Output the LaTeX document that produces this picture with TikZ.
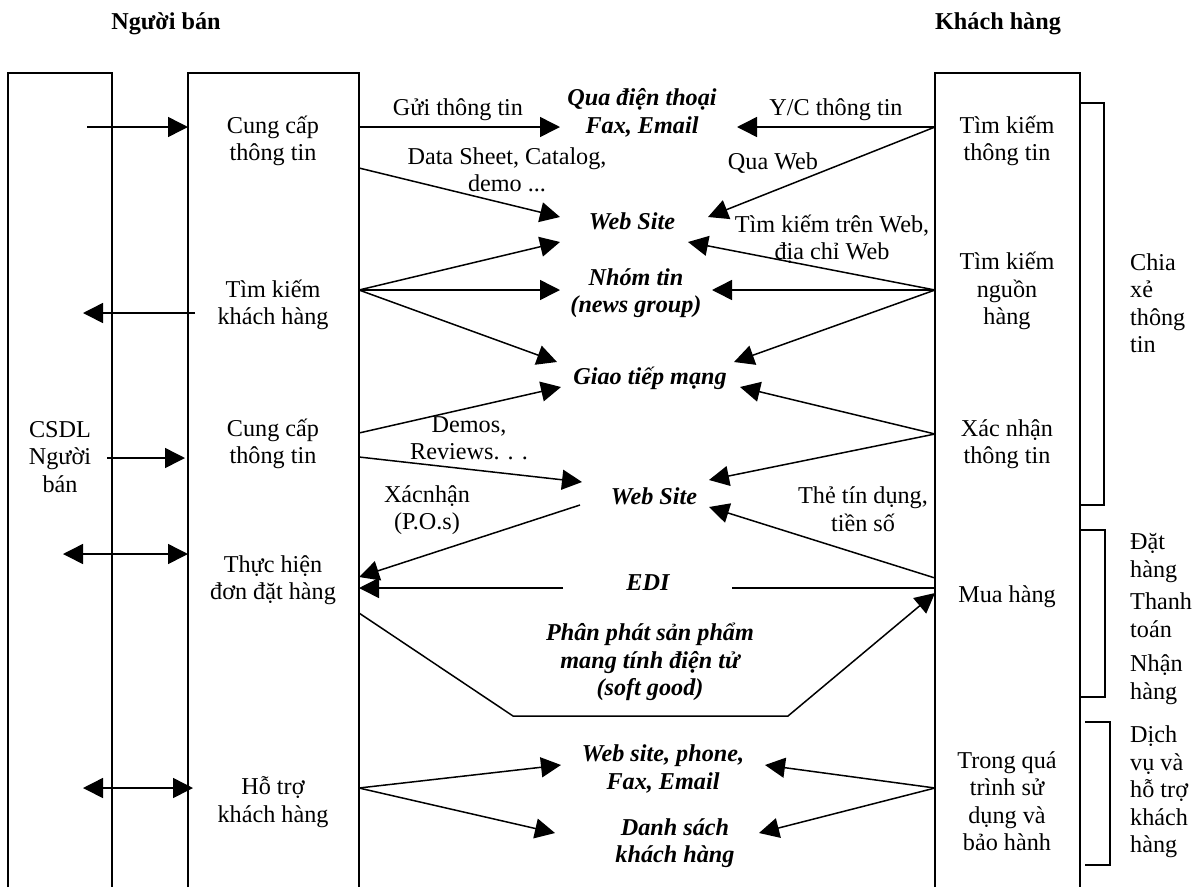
\documentclass[tikz,border=0pt]{standalone}
\usepackage{fontspec}
\setmainfont{Liberation Serif}
\usetikzlibrary{arrows.meta}
\tikzset{
  ln/.style={line width=1.5pt},
  arr/.style={ln,-{Triangle[length=20pt,width=20pt]}},
  darr/.style={ln,{Triangle[length=20pt,width=20pt]}-{Triangle[length=20pt,width=20pt]}},
  txt/.style={align=center,inner sep=0pt,font=\fontsize{24.2}{27.5}\selectfont},
  ctr/.style={txt,font=\fontsize{24.2}{27.5}\selectfont\bfseries\itshape},
  side/.style={align=left,inner sep=0pt,anchor=west,font=\fontsize{24.2}{27.5}\selectfont},
}
\begin{document}
\begin{tikzpicture}[x=1pt,y=-1pt]
\useasboundingbox (0,0) rectangle (1199,887);
% columns (open at the bottom)
\draw[ln] (8,887) -- (8,73) -- (112,73) -- (112,887);
\draw[ln] (188,887) -- (188,73) -- (359,73) -- (359,887);
\draw[ln] (935,887) -- (935,73) -- (1080,73) -- (1080,887);
% brackets
\draw[ln] (1080,103) -- (1104,103) -- (1104,505) -- (1080,505);
\draw[ln] (1080,530) -- (1105,530) -- (1105,697) -- (1080,697);
\draw[ln] (1085,722) -- (1110,722) -- (1110,865) -- (1085,865);
% headers
\node[txt,font=\fontsize{24.2}{27.5}\selectfont\bfseries] (hL) at (166,24) {Người bán};
\node[txt,font=\fontsize{24.2}{27.5}\selectfont\bfseries] (hR) at (998,24) {Khách hàng};
% left column
\node[txt] (csdl) at (60,457) {CSDL\\Người\\bán};
% seller column
\node[txt] (s1) at (273,141) {Cung cấp\\thông tin};
\node[txt] (s2) at (273,305) {Tìm kiếm\\khách hàng};
\node[txt] (s3) at (273,444) {Cung cấp\\thông tin};
\node[txt] (s4) at (273,580) {Thực hiện\\đơn đặt hàng};
\node[txt] (s5) at (273,802) {Hỗ trợ\\khách hàng};
% customer column
\node[txt] (c1) at (1007,141) {Tìm kiếm\\thông tin};
\node[txt] (c2) at (1007,291) {Tìm kiếm\\nguồn\\hàng};
\node[txt] (c3) at (1007,444) {Xác nhận\\thông tin};
\node[txt] (c4) at (1007,597) {Mua hàng};
\node[txt] (c5) at (1007,801) {Trong quá\\trình sử\\dụng và\\bảo hành};
% channels
\node[ctr] (m1) at (642,113) {Qua điện thoại\\Fax, Email};
\node[ctr] (m2) at (632,221) {Web Site};
\node[ctr] (m3) at (636,293) {Nhóm tin\\(news group)};
\node[ctr] (m4) at (650,378) {Giao tiếp mạng};
\node[ctr] (m5) at (654,496) {Web Site};
\node[ctr] (m6) at (648,583) {EDI};
\node[ctr] (m7) at (650,662) {Phân phát sản phẩm\\mang tính điện tử\\(soft good)};
\node[ctr] (m8) at (663,769) {Web site, phone,\\Fax, Email};
\node[ctr] (m9) at (675,843) {Danh sách\\khách hàng};
% labels
\node[txt] (l1) at (458,110) {Gửi thông tin};
\node[txt] (l2) at (507,170) {Data Sheet, Catalog,\\demo ...};
\node[txt] (l3) at (836,110) {Y/C thông tin};
\node[txt] (l4) at (773,163) {Qua Web};
\node[txt] (l5) at (832,239) {Tìm kiếm trên Web,\\địa chỉ Web};
\node[txt] (l6) at (469,438) {Demos,\\Reviews. . .};
\node[txt] (l7) at (427,510) {Xácnhận\\(P.O.s)};
\node[txt] (l8) at (863,509) {Thẻ tín dụng,\\tiền số};
% right side notes
\node[side] (r1) at (1130,303) {Chia\\xẻ\\thông\\tin};
\node[side] (r2) at (1130,619) {Đặt\\hàng\\[5pt]Thanh\\toán\\[7pt]Nhận\\hàng};
\node[side] (r3) at (1130,792) {Dịch\\vụ và\\hỗ trợ\\khách\\hàng};
% ports on column edges
\coordinate (pa1) at (87,127);   \coordinate (pb1) at (188,127);
\coordinate (pa2) at (195,313);  \coordinate (pb2) at (83,313);
\coordinate (pa3) at (107,458);  \coordinate (pb3) at (185,458);
\coordinate (pa4) at (63,554);   \coordinate (pb4) at (188,554);
\coordinate (pa5) at (83,788);   \coordinate (pb5) at (193,788);
\coordinate (sA) at (359,127);
\coordinate (sB) at (359,168);
\coordinate (sC) at (359,290);
\coordinate (sD) at (359,433);
\coordinate (sE) at (359,457);
\coordinate (sF) at (359,577);
\coordinate (sG) at (359,588);
\coordinate (sH) at (359,613);
\coordinate (sI) at (359,788);
\coordinate (cA) at (935,127);
\coordinate (cB) at (935,290);
\coordinate (cC) at (935,434);
\coordinate (cD) at (935,578);
\coordinate (cE) at (935,588);
\coordinate (cF) at (935,593);
\coordinate (cG) at (935,788);
% arrow ends at channels
\coordinate (t1L) at (560,127);  \coordinate (t1R) at (737,127);
\coordinate (t2L) at (560,217);  \coordinate (t2R) at (708,217);
\coordinate (t2L2) at (560,242); \coordinate (t2R2) at (688,242);
\coordinate (t3L) at (560,290);  \coordinate (t3R) at (712,290);
\coordinate (t4L) at (557,362);  \coordinate (t4R) at (734,362);
\coordinate (t4L2) at (561,387); \coordinate (t4R2) at (740,387);
\coordinate (t5L) at (582,482);  \coordinate (t5R) at (709,480);
\coordinate (t5R2) at (709,507); \coordinate (t5S) at (580,505);
\coordinate (t6L) at (563,588);  \coordinate (t6R) at (732,588);
\coordinate (k1) at (513,716);   \coordinate (k2) at (788,716);
\coordinate (t8L) at (561,765);  \coordinate (t8R) at (765,765);
\coordinate (t9L) at (555,833);  \coordinate (t9R) at (759,833);
% left arrows
\draw[arr] (pa1) -- (pb1);
\draw[arr] (pa2) -- (pb2);
\draw[arr] (pa3) -- (pb3);
\draw[darr] (pa4) -- (pb4);
\draw[darr] (pa5) -- (pb5);
% seller to channels
\draw[arr] (sA) -- (t1L);
\draw[arr] (sB) -- (t2L);
\draw[arr] (sC) -- (t2L2);
\draw[arr] (sC) -- (t3L);
\draw[arr] (sC) -- (t4L);
\draw[arr] (sD) -- (t4L2);
\draw[arr] (sE) -- (t5L);
\draw[arr] (t5S) -- (sF);
\draw[arr] (t6L) -- (sG);
\draw[ln] (cE) -- (t6R);
\draw[arr] (sH) -- (k1) -- (k2) -- (cF);
\draw[arr] (sI) -- (t8L);
\draw[arr] (sI) -- (t9L);
% customer to channels
\draw[arr] (cA) -- (t1R);
\draw[arr] (cA) -- (t2R);
\draw[arr] (cB) -- (t2R2);
\draw[arr] (cB) -- (t3R);
\draw[arr] (cB) -- (t4R);
\draw[arr] (cC) -- (t4R2);
\draw[arr] (cC) -- (t5R);
\draw[arr] (cD) -- (t5R2);
\draw[arr] (cG) -- (t8R);
\draw[arr] (cG) -- (t9R);
\end{tikzpicture}
\end{document}
